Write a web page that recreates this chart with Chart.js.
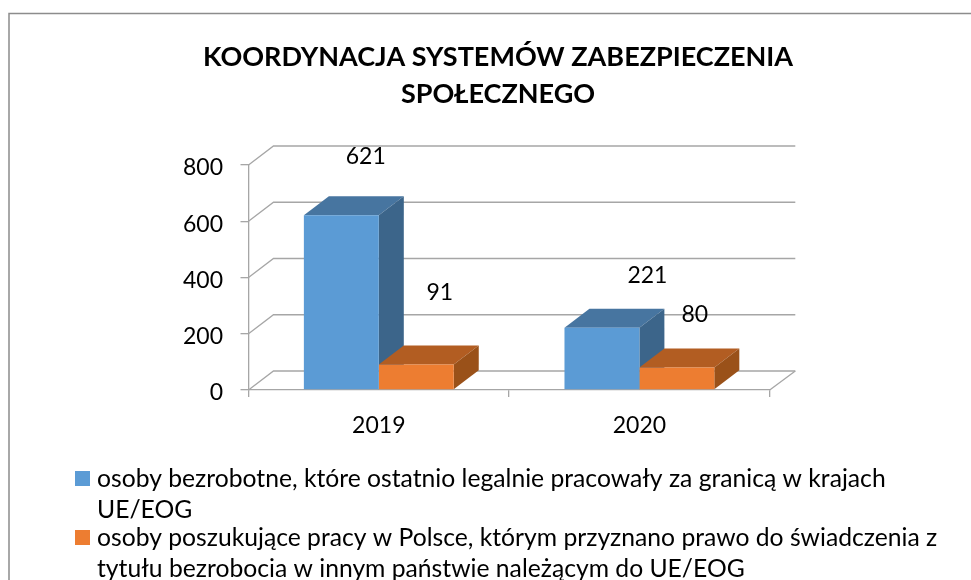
<!DOCTYPE html>
<html lang="pl">
<head>
<meta charset="utf-8">
<title>Koordynacja systemów zabezpieczenia społecznego</title>
<script src="https://cdn.jsdelivr.net/npm/chart.js@4"></script>
<style>
html,body{margin:0;padding:0;background:#fff;overflow:hidden}
canvas{display:block}
</style>
</head>
<body>
<canvas id="c" width="971" height="580"></canvas>
<script>
const categories = ['2019', '2020'];
const unemployedAbroad = [621, 221];
const jobSeekersPoland = [91, 80];
const yTicks = [0, 200, 400, 600, 800];
const titleLines = ['KOORDYNACJA SYSTEMÓW ZABEZPIECZENIA', 'SPOŁECZNEGO'];
const seriesNames = [
  ['osoby bezrobotne, które ostatnio legalnie pracowały za granicą w krajach', 'UE/EOG'],
  ['osoby poszukujące pracy w Polsce, którym przyznano prawo do świadczenia z', 'tytułu bezrobocia w innym państwie należącym do UE/EOG']
];
const seriesColors = ['#5b9bd5', '#ed7d31'];
const topColors = ['#4775a0', '#b25d22'];
const sideColors = ['#3c658a', '#9a5119'];

const FONT = 'Lato, Carlito, Calibri, sans-serif';
const GRID = '#a6a6a6';
const DEPTH_X = 25, DEPTH_Y = 19, BACK_RIGHT_X = 25.6;
// hand-placed label offsets from each bar's top centre, [dataset][category] = [dx, dy]
const labelOffsets = [[[24.4, -59], [45.5, -52]], [[23.6, -72], [18, -53]]];

const threeD = {
  id: 'threeD',
  beforeDatasetsDraw(chart) {
    const { ctx, scales: { x, y } } = chart;
    const left = x.left, right = x.right;
    ctx.save();
    ctx.strokeStyle = GRID;
    ctx.lineWidth = 1.3;
    yTicks.forEach(v => {
      const py = y.getPixelForValue(v);
      ctx.beginPath();
      ctx.moveTo(left, py);
      ctx.lineTo(left + DEPTH_X, py - DEPTH_Y);
      ctx.lineTo(right + BACK_RIGHT_X, py - DEPTH_Y);
      ctx.stroke();
    });
    const base = y.getPixelForValue(0);
    ctx.beginPath();
    ctx.moveTo(right, base);
    ctx.lineTo(right + BACK_RIGHT_X, base - DEPTH_Y);
    ctx.stroke();
    chart.data.datasets.forEach((ds, di) => {
      chart.getDatasetMeta(di).data.forEach(bar => {
        const l = bar.x - bar.width / 2, r = bar.x + bar.width / 2, t = bar.y, b = bar.base;
        ctx.fillStyle = topColors[di];
        ctx.beginPath();
        ctx.moveTo(l, t);
        ctx.lineTo(l + DEPTH_X, t - DEPTH_Y);
        ctx.lineTo(r + DEPTH_X, t - DEPTH_Y);
        ctx.lineTo(r, t);
        ctx.closePath();
        ctx.fill();
        ctx.fillStyle = sideColors[di];
        ctx.beginPath();
        ctx.moveTo(r, t);
        ctx.lineTo(r + DEPTH_X, t - DEPTH_Y);
        ctx.lineTo(r + DEPTH_X, b - DEPTH_Y);
        ctx.lineTo(r, b);
        ctx.closePath();
        ctx.fill();
      });
    });
    ctx.restore();
  },
  afterDatasetsDraw(chart) {
    const { ctx } = chart;
    ctx.save();
    ctx.font = '23px ' + FONT;
    ctx.fillStyle = '#000';
    ctx.textAlign = 'center';
    ctx.textBaseline = 'middle';
    chart.data.datasets.forEach((ds, di) => {
      chart.getDatasetMeta(di).data.forEach((bar, i) => {
        const [dx, dy] = labelOffsets[di][i];
        ctx.fillText(String(ds.data[i]), bar.x + dx, bar.y + dy);
      });
    });
    ctx.restore();
  },
  afterDraw(chart) {
    const { ctx, width, height } = chart;
    ctx.save();
    // outer chart frame
    ctx.strokeStyle = '#8c8c8c';
    ctx.lineWidth = 1.5;
    ctx.beginPath();
    ctx.moveTo(9, height);
    ctx.lineTo(9, 13.5);
    ctx.lineTo(width, 13.5);
    ctx.stroke();
    // wrapped legend
    const swatchTops = [471, 530];
    const baselines = [[487, 518], [546, 577]];
    ctx.font = '24.7px ' + FONT;
    ctx.textAlign = 'left';
    ctx.textBaseline = 'alphabetic';
    seriesNames.forEach((lines, i) => {
      ctx.fillStyle = seriesColors[i];
      ctx.fillRect(75, swatchTops[i], 15, 15);
      ctx.fillStyle = '#000';
      lines.forEach((line, j) => ctx.fillText(line, 97, baselines[i][j]));
    });
    ctx.restore();
  }
};

new Chart(document.getElementById('c'), {
  type: 'bar',
  data: {
    labels: categories,
    datasets: [
      { label: seriesNames[0].join(' '), data: unemployedAbroad, backgroundColor: seriesColors[0], borderWidth: 0, categoryPercentage: 0.575, barPercentage: 1 },
      { label: seriesNames[1].join(' '), data: jobSeekersPoland, backgroundColor: seriesColors[1], borderWidth: 0, categoryPercentage: 0.575, barPercentage: 1 }
    ]
  },
  options: {
    responsive: false,
    animation: false,
    layout: { padding: { left: 25, right: 0, top: 0, bottom: 0 } },
    plugins: {
      legend: { display: false },
      tooltip: { enabled: false },
      title: {
        display: true,
        text: titleLines,
        color: '#000',
        font: { family: FONT, size: 27, weight: 'bold', lineHeight: '37px' },
        padding: { top: 38.5, bottom: 52.5 }
      }
    },
    scales: {
      x: {
        type: 'category',
        position: 'bottom',
        grid: { drawOnChartArea: false, drawTicks: true, tickLength: 7, color: GRID, lineWidth: 1.3 },
        border: { color: GRID, width: 1.3 },
        ticks: { color: '#000', padding: 15, maxRotation: 0, font: { family: FONT, size: 23 } },
        afterFit(s) { s.height = 190; }
      },
      y: {
        type: 'linear',
        position: 'left',
        min: yTicks[0],
        max: yTicks[yTicks.length - 1],
        grid: { drawOnChartArea: false, drawTicks: true, tickLength: 8, color: GRID, lineWidth: 1.3 },
        border: { color: GRID, width: 1.3 },
        ticks: { stepSize: yTicks[1] - yTicks[0], color: '#000', padding: 17.5, labelOffset: 3, font: { family: FONT, size: 23 } },
        afterFit(s) { s.width = 223.5; }
      },
      spacer: {
        type: 'linear',
        position: 'right',
        grid: { display: false },
        border: { display: false },
        ticks: { display: false },
        afterFit(s) { s.width = 201.3; }
      }
    }
  },
  plugins: [threeD]
});
</script>
</body>
</html>
